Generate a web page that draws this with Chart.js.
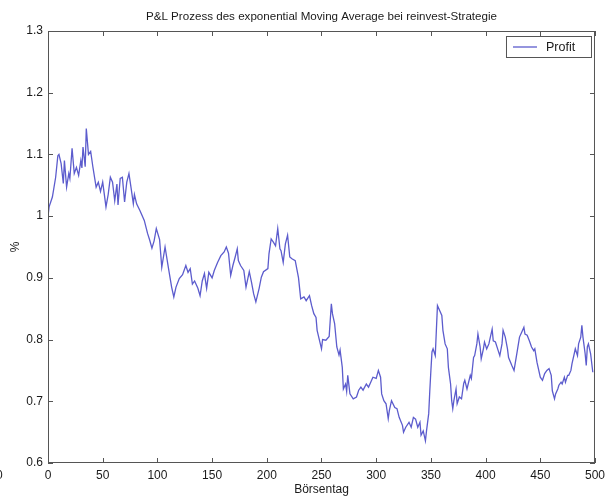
<!DOCTYPE html>
<html>
<head>
<meta charset="utf-8">
<title>P&amp;L Prozess</title>
<script src="https://cdn.jsdelivr.net/npm/chart.js@4/dist/chart.umd.min.js"></script>
<style>
  html, body { margin: 0; padding: 0; background: #fff; }
  #chart { display: block; }
</style>
</head>
<body>
<canvas id="chart" width="610" height="497"></canvas>
<script>
var titleText = "P&L Prozess des exponential Moving Average bei reinvest-Strategie";
var xTitle = "Börsentag";
var yTitle = "%";
var seriesName = "Profit";
var xTicks = [0, 50, 100, 150, 200, 250, 300, 350, 400, 450, 500];
var yTicks = [0.6, 0.7, 0.8, 0.9, 1.0, 1.1, 1.2, 1.3];

// Börsentag (trading day) of each read point
var days = [
  0, 1, 4, 7, 9, 10, 12, 14, 15, 17, 19, 20, 22, 24, 26, 28, 30, 31, 32, 34,
  35, 37, 39, 41, 44, 46, 48, 50, 53, 55, 57, 59, 61, 63, 64, 66, 68, 70, 72, 74,
  76, 78, 79, 81, 84, 88, 91, 93, 95, 97, 99, 102, 104, 107, 110, 113, 115, 117, 120, 123,
  126, 128, 130, 132, 134, 137, 139, 141, 143, 145, 147, 150, 152, 155, 158, 161, 163, 165, 167, 169,
  171, 173, 174, 176, 179, 181, 184, 186, 188, 190, 193, 195, 197, 201, 202, 204, 206, 208, 210, 212,
  213, 215, 217, 219, 221, 223, 226, 229, 231, 234, 236, 239, 241, 243, 245, 246, 248, 250, 251, 254,
  257, 259, 260, 262, 264, 266, 267, 269, 270, 272, 273, 274, 276, 279, 282, 284, 286, 288, 291, 293,
  295, 297, 300, 302, 304, 305, 307, 309, 311, 312, 314, 317, 319, 321, 324, 325, 327, 330, 332, 334,
  336, 338, 340, 341, 343, 345, 346, 348, 349, 350, 351, 352, 354, 355, 356, 358, 360, 361, 363, 365,
  366, 368, 369, 370, 371, 373, 374, 376, 378, 380, 381, 383, 386, 387, 389, 390, 392, 393, 395, 396,
  398, 399, 401, 403, 404, 406, 407, 409, 411, 413, 415, 416, 418, 420, 421, 424, 426, 429, 431, 433,
  435, 436, 438, 440, 442, 444, 445, 447, 450, 452, 454, 456, 458, 460, 461, 463, 464, 466, 467, 469,
  470, 472, 473, 475, 476, 478, 479, 481, 482, 484, 485, 487, 488, 489, 491, 492, 493, 494, 496, 498
];

// profit level
var profit = [
  1.000, 1.015, 1.031, 1.063, 1.098, 1.100, 1.085, 1.053, 1.090, 1.047, 1.069, 1.061, 1.110, 1.069, 1.079, 1.066, 1.090, 1.078, 1.112, 1.080,
  1.142, 1.100, 1.105, 1.080, 1.047, 1.055, 1.040, 1.055, 1.015, 1.035, 1.063, 1.055, 1.025, 1.052, 1.018, 1.061, 1.063, 1.023, 1.055, 1.069,
  1.045, 1.020, 1.035, 1.020, 1.009, 0.993, 0.972, 0.961, 0.948, 0.960, 0.980, 0.962, 0.917, 0.950, 0.917, 0.885, 0.869, 0.885, 0.899, 0.905,
  0.920, 0.909, 0.915, 0.890, 0.895, 0.883, 0.871, 0.895, 0.907, 0.883, 0.909, 0.900, 0.912, 0.925, 0.936, 0.942, 0.950, 0.940, 0.904, 0.920,
  0.933, 0.947, 0.928, 0.920, 0.912, 0.885, 0.910, 0.893, 0.874, 0.861, 0.883, 0.901, 0.910, 0.915, 0.939, 0.963, 0.958, 0.952, 0.980, 0.947,
  0.944, 0.925, 0.955, 0.969, 0.934, 0.931, 0.928, 0.900, 0.866, 0.869, 0.863, 0.871, 0.855, 0.842, 0.836, 0.815, 0.800, 0.785, 0.800, 0.799,
  0.805, 0.858, 0.842, 0.826, 0.788, 0.775, 0.783, 0.755, 0.720, 0.728, 0.716, 0.742, 0.712, 0.704, 0.707, 0.718, 0.723, 0.718, 0.728, 0.723,
  0.731, 0.739, 0.737, 0.750, 0.739, 0.712, 0.701, 0.696, 0.672, 0.685, 0.701, 0.690, 0.688, 0.674, 0.661, 0.650, 0.658, 0.666, 0.658, 0.674,
  0.671, 0.658, 0.666, 0.645, 0.652, 0.636, 0.652, 0.680, 0.717, 0.750, 0.780, 0.785, 0.774, 0.815, 0.855, 0.847, 0.839, 0.815, 0.793, 0.785,
  0.755, 0.728, 0.701, 0.688, 0.701, 0.720, 0.696, 0.707, 0.704, 0.729, 0.734, 0.720, 0.742, 0.737, 0.771, 0.774, 0.793, 0.809, 0.788, 0.769,
  0.785, 0.796, 0.785, 0.793, 0.801, 0.817, 0.798, 0.796, 0.785, 0.774, 0.793, 0.815, 0.804, 0.785, 0.771, 0.758, 0.750, 0.782, 0.804, 0.812,
  0.820, 0.809, 0.807, 0.798, 0.788, 0.782, 0.785, 0.763, 0.739, 0.734, 0.745, 0.750, 0.753, 0.742, 0.717, 0.704, 0.712, 0.720, 0.726, 0.731,
  0.728, 0.739, 0.731, 0.742, 0.742, 0.750, 0.761, 0.777, 0.785, 0.774, 0.793, 0.804, 0.823, 0.804, 0.777, 0.758, 0.788, 0.793, 0.777, 0.747
];

var lineColor = "rgb(92,92,205)";
var axisColor = "#555";
var textColor = "#1a1a1a";
var fontFamily = "'Liberation Sans', Arial, Helvetica, sans-serif";

var points = [];
for (var i = 0; i < days.length; i++) {
  points.push({ x: days[i], y: profit[i] });
}

// matlab style: box around axes, inward ticks on all four sides, title, legend box
var matlabAxes = {
  id: "matlabAxes",
  afterDraw: function(chart) {
    var ctx = chart.ctx;
    var a = chart.chartArea;
    var xs = chart.scales.x, ys = chart.scales.y;
    var len = 5;
    ctx.save();
    ctx.strokeStyle = axisColor;
    ctx.lineWidth = 1;
    ctx.strokeRect(a.left + 0.5, a.top + 0.5, a.right - a.left - 1, a.bottom - a.top - 1);
    ctx.beginPath();
    xTicks.forEach(function(v) {
      var px = Math.round(xs.getPixelForValue(v)) + 0.5;
      ctx.moveTo(px, a.bottom); ctx.lineTo(px, a.bottom - len);
      ctx.moveTo(px, a.top); ctx.lineTo(px, a.top + len);
    });
    yTicks.forEach(function(v) {
      var py = Math.round(ys.getPixelForValue(v)) + 0.5;
      ctx.moveTo(a.left, py); ctx.lineTo(a.left + len, py);
      ctx.moveTo(a.right, py); ctx.lineTo(a.right - len, py);
    });
    ctx.stroke();

    // title centred over the axes
    ctx.fillStyle = textColor;
    ctx.font = "11.6px " + fontFamily;
    ctx.textAlign = "center";
    ctx.textBaseline = "middle";
    ctx.fillText(titleText, (a.left + a.right) / 2, 17);

    // clipped label at the far left edge
    ctx.font = "12px " + fontFamily;
    ctx.textAlign = "left";
    ctx.fillText("0", -4, 476);

    // legend box in the top right corner
    var bw = 85, bh = 21;
    var bx = a.right - 4 - bw, by = a.top + 5;
    ctx.fillStyle = "#fff";
    ctx.fillRect(bx, by, bw, bh);
    ctx.strokeStyle = axisColor;
    ctx.strokeRect(bx + 0.5, by + 0.5, bw, bh);
    ctx.strokeStyle = lineColor;
    ctx.lineWidth = 1.3;
    ctx.beginPath();
    ctx.moveTo(bx + 7, by + bh / 2 + 0.5);
    ctx.lineTo(bx + 31, by + bh / 2 + 0.5);
    ctx.stroke();
    ctx.fillStyle = textColor;
    ctx.font = "12.5px " + fontFamily;
    ctx.textAlign = "left";
    ctx.fillText(chart.data.datasets[0].label, bx + 40, by + bh / 2 + 1);
    ctx.restore();
  }
};

var ctx = document.getElementById("chart").getContext("2d");
new Chart(ctx, {
  type: "line",
  data: {
    datasets: [{
      label: seriesName,
      data: points,
      borderColor: lineColor,
      borderWidth: 1.3,
      pointRadius: 0,
      tension: 0,
      fill: false
    }]
  },
  options: {
    responsive: false,
    animation: false,
    layout: { padding: { top: 31, right: 15, left: 0, bottom: 0 } },
    plugins: {
      legend: { display: false },
      title: { display: false },
      tooltip: { enabled: false }
    },
    scales: {
      x: {
        type: "linear",
        min: 0,
        max: 500,
        afterFit: function(s) { s.height = 34; },
        afterBuildTicks: function(s) { s.ticks = xTicks.map(function(v) { return { value: v }; }); },
        grid: { display: false, drawTicks: false },
        border: { display: false },
        ticks: { color: textColor, padding: 5, maxRotation: 0, font: { size: 12, family: fontFamily } },
        title: { display: true, text: xTitle, color: textColor, padding: { top: 0, bottom: 0 }, font: { size: 12, family: fontFamily } }
      },
      y: {
        min: 0.6,
        max: 1.3,
        afterFit: function(s) { s.width = 48; },
        afterBuildTicks: function(s) { s.ticks = yTicks.map(function(v) { return { value: v }; }); },
        grid: { display: false, drawTicks: false },
        border: { display: false },
        ticks: {
          color: textColor,
          padding: 5,
          font: { size: 12, family: fontFamily },
          callback: function(v) { return String(Number(v.toFixed(1))); }
        },
        title: { display: true, text: yTitle, color: textColor, padding: { top: 8, bottom: 0 }, font: { size: 12, family: fontFamily } }
      }
    }
  },
  plugins: [matlabAxes]
});
</script>
</body>
</html>
